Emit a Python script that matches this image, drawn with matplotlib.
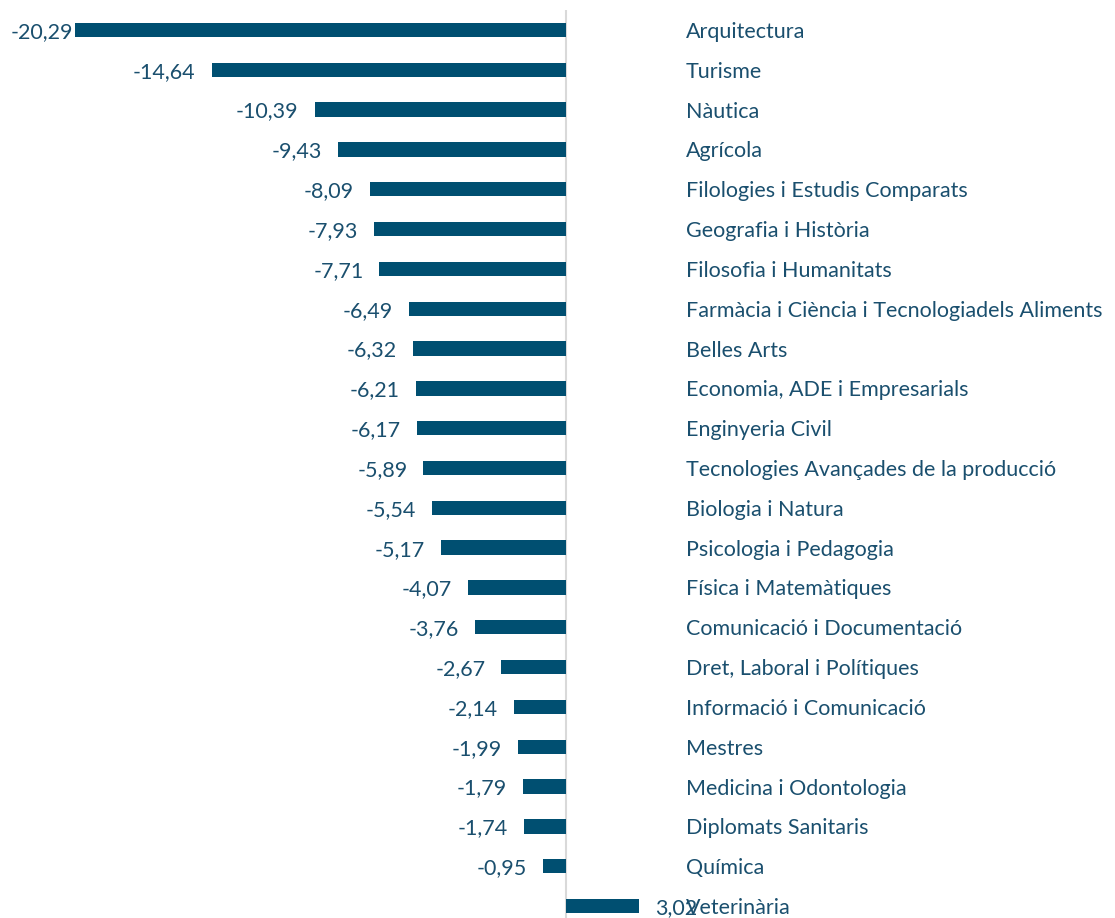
import matplotlib.pyplot as plt
import numpy as np

categories = [
    "Arquitectura", "Turisme", "Nàutica", "Agrícola",
    "Filologies i Estudis Comparats", "Geografia i Història",
    "Filosofia i Humanitats", "Farmàcia i Ciència i Tecnologiadels Aliments",
    "Belles Arts", "Economia, ADE i Empresarials", "Enginyeria Civil",
    "Tecnologies Avançades de la producció", "Biologia i Natura",
    "Psicologia i Pedagogia", "Física i Matemàtiques",
    "Comunicació i Documentació", "Dret, Laboral i Polítiques",
    "Informació i Comunicació", "Mestres", "Medicina i Odontologia",
    "Diplomats Sanitaris", "Química", "Veterinària",
]
values = [
    -20.29, -14.64, -10.39, -9.43, -8.09, -7.93, -7.71, -6.49, -6.32, -6.21,
    -6.17, -5.89, -5.54, -5.17, -4.07, -3.76, -2.67, -2.14, -1.99, -1.79,
    -1.74, -0.95, 3.02,
]

bar_color = "#004f71"
text_color = "#1a4f6e"
plt.rcParams["font.family"] = ["Lato", "DejaVu Sans"]

fig = plt.figure(figsize=(11.15, 9.18), dpi=100)
ax = fig.add_axes([0, 0, 1, 908 / 918])

y = np.arange(len(categories))
ax.barh(y, values, height=0.36, color=bar_color, zorder=2)
ax.axvline(0, color="#d9d9d9", lw=1.5, zorder=1)

ax.set_xlim(-566 / 24.2, (1115 - 566) / 24.2)
ax.set_ylim(22.3, -0.5)
ax.axis("off")

vmin = min(values)
for yi, v, cat in zip(y, values, categories):
    label = f"{v:.2f}".replace(".", ",")
    if v < 0:
        off = -1.5 if v == vmin else -11.5
        ax.annotate(label, (v, yi), xytext=(off, 0), textcoords="offset points",
                    ha="right", va="center_baseline", fontsize=15.5,
                    color=text_color)
    else:
        ax.annotate(label, (v, yi), xytext=(11.5, 0), textcoords="offset points",
                    ha="left", va="center_baseline", fontsize=15.5,
                    color=text_color)
    ax.text(120 / 24.2, yi, cat, ha="left", va="center_baseline", fontsize=15.5,
            color=text_color)

fig.savefig("out.png", dpi=100, facecolor="w")
